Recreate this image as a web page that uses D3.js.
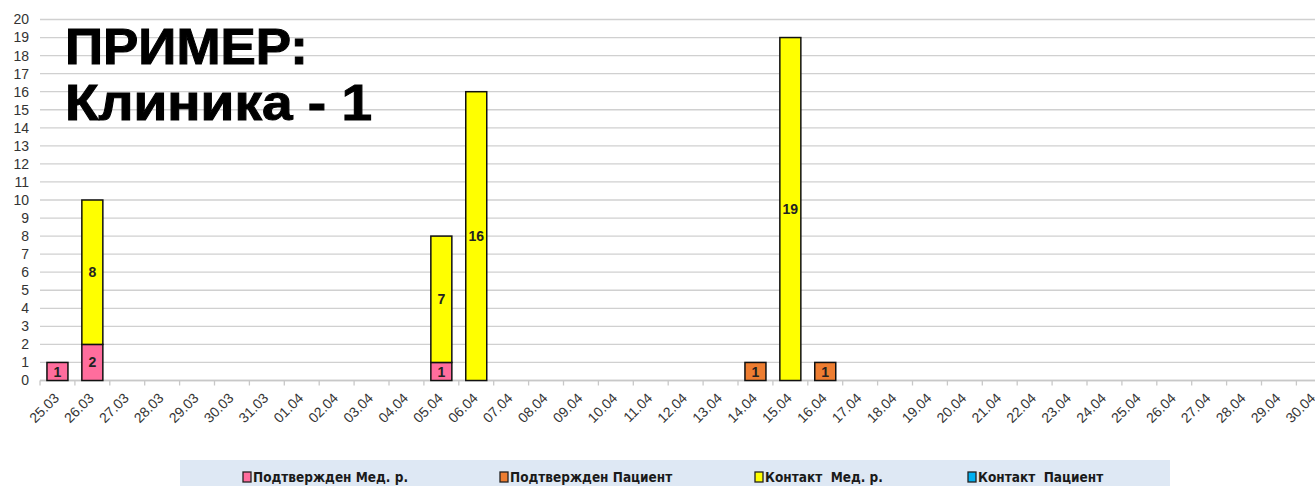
<!DOCTYPE html>
<html><head><meta charset="utf-8">
<script src="https://cdn.jsdelivr.net/npm/d3@7"></script>
<style>body{margin:0;background:#fff;overflow:hidden}</style>
</head><body>
<svg id="c" width="1315" height="486"></svg>
<script>
const categories = ["25.03","26.03","27.03","28.03","29.03","30.03","31.03","01.04","02.04","03.04","04.04","05.04","06.04","07.04","08.04","09.04","10.04","11.04","12.04","13.04","14.04","15.04","16.04","17.04","18.04","19.04","20.04","21.04","22.04","23.04","24.04","25.04","26.04","27.04","28.04","29.04","30.04"];
const seriesNames = ["Подтвержден Мед. р.","Подтвержден Пациент","Контакт  Мед. р.","Контакт  Пациент"];
const seriesColors = ["#ff6d9d","#ed7d31","#ffff00","#00b0f0"];
const confirmedMed = {"25.03":1,"26.03":2,"05.04":1};
const confirmedPatient = {"14.04":1,"16.04":1};
const contactMed = {"26.03":8,"05.04":7,"06.04":16,"15.04":19};
const contactPatient = {};
const yTicks = d3.range(0,21);
const titleLines = ["ПРИМЕР:","Клиника - 1"];

(function(){
const seriesData = [confirmedMed, confirmedPatient, contactMed, contactPatient];
const table = categories.map(c => {
  const row = {cat:c};
  seriesData.forEach((s,i)=> row["s"+i] = s[c] || 0);
  return row;
});
const keys = seriesData.map((_,i)=>"s"+i);
const stack = d3.stack().keys(keys)(table);

const svg = d3.select("#c");
const pLeft = 40, bandW = 34.9, pTop = 19.5, pBottom = 380.5;
const x = d3.scaleBand().domain(categories).range([pLeft, pLeft + bandW*categories.length]).paddingInner(0.4).paddingOuter(0.2);
const y = d3.scaleLinear().domain([0,20]).range([pBottom, pTop]);

svg.append("g").selectAll("line").data(yTicks).join("line")
  .attr("x1", pLeft).attr("x2", 1315)
  .attr("y1", d=>y(d)).attr("y2", d=>y(d))
  .attr("stroke", "#d0d0d0").attr("stroke-width", 1.3);

svg.append("g").selectAll("text").data(yTicks).join("text")
  .attr("x", 29).attr("y", d=>y(d)).attr("dy","0.35em")
  .attr("text-anchor","end")
  .attr("font-family","Liberation Sans, Arial, sans-serif").attr("font-size",14)
  .attr("fill","#333").text(d=>d);

const xa = svg.append("g");
xa.append("line").attr("x1",pLeft).attr("x2",1315).attr("y1",pBottom).attr("y2",pBottom).attr("stroke","#c8c8c8").attr("stroke-width",1.3);
xa.selectAll("line.t").data(d3.range(categories.length+1)).join("line").attr("class","t")
  .attr("x1", i=> pLeft + i*bandW).attr("x2", i=> pLeft + i*bandW)
  .attr("y1", pBottom).attr("y2", pBottom+5).attr("stroke","#c8c8c8").attr("stroke-width",1.3);
xa.selectAll("text").data(categories).join("text")
  .attr("transform", d=>`translate(${x(d)+x.bandwidth()/2-1},${pBottom+15}) rotate(-45)`)
  .attr("text-anchor","end").attr("dy","0.35em")
  .attr("font-family","Liberation Sans, Arial, sans-serif").attr("font-size",14)
  .attr("fill","#333").text(d=>d);

const bw = 21;
stack.forEach((layer, li) => {
  const g = svg.append("g");
  layer.forEach(seg => {
    const v = seg[1]-seg[0];
    if (v <= 0) return;
    const cx = x(seg.data.cat) + x.bandwidth()/2;
    g.append("rect").attr("x", cx - bw/2).attr("y", y(seg[1])).attr("width", bw).attr("height", y(seg[0])-y(seg[1]))
      .attr("fill", seriesColors[li]).attr("stroke","#111").attr("stroke-width",1.5);
    g.append("text").attr("x", cx).attr("y", (y(seg[0])+y(seg[1]))/2).attr("dy","0.36em")
      .attr("text-anchor","middle").attr("font-family","Liberation Sans, Arial, sans-serif")
      .attr("font-weight","bold").attr("font-size",14).attr("fill","#222").text(v);
  });
});

const titleW = [243, 307];
svg.append("g").selectAll("text").data(titleLines).join("text")
  .attr("x", 65).attr("y",(d,i)=> 64 + i*56)
  .attr("font-family","Liberation Sans, Arial, sans-serif").attr("font-weight","bold")
  .attr("font-size",50).attr("fill","#000").attr("stroke","#000").attr("stroke-width",1)
  .attr("textLength",(d,i)=>titleW[i]).attr("lengthAdjust","spacingAndGlyphs").text(d=>d);

const lg = svg.append("g");
lg.append("rect").attr("x",180).attr("y",460).attr("width",990).attr("height",30).attr("fill","#dee8f4");
const legendX = [243, 500, 755, 968];
seriesNames.forEach((n,i)=>{
  lg.append("rect").attr("x",legendX[i]).attr("y",472).attr("width",8).attr("height",10)
    .attr("fill",seriesColors[i]).attr("stroke","#222").attr("stroke-width",1.3);
  lg.append("text").attr("x",legendX[i]+10).attr("y",477.5).attr("dy","0.35em")
    .attr("font-family","DejaVu Sans Condensed, DejaVu Sans, sans-serif").attr("font-weight","bold")
    .attr("font-size",13.5).attr("fill","#1a1a1a").style("white-space","pre").text(n);
});
})();
</script>
</body></html>
